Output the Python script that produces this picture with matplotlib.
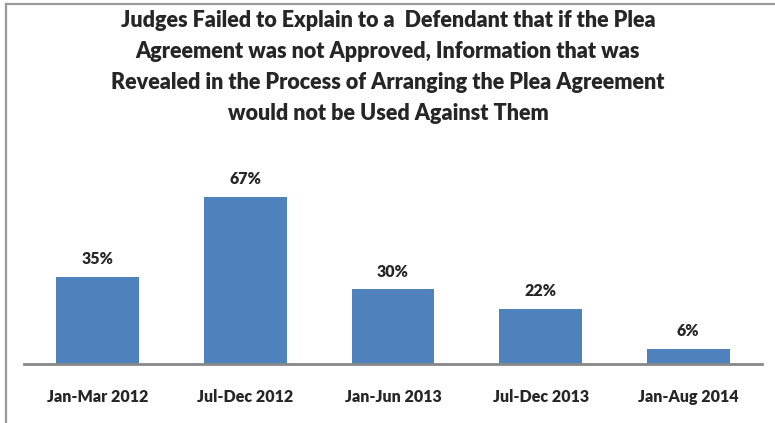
import matplotlib
matplotlib.use("Agg")
import matplotlib.pyplot as plt
from matplotlib.lines import Line2D
from matplotlib import font_manager

periods = ["Jan-Mar 2012", "Jul-Dec 2012", "Jan-Jun 2013", "Jul-Dec 2013", "Jan-Aug 2014"]
failed_pct = [35, 67, 30, 22, 6]

title = ("Judges Failed to Explain to a  Defendant that if the Plea\n"
         "Agreement was not Approved, Information that was\n"
         "Revealed in the Process of Arranging the Plea Agreement\n"
         "would not be Used Against Them")

plt.rcParams["font.family"] = ["Lato", "DejaVu Sans"]
print(sorted({(f.name, f.weight) for f in font_manager.fontManager.ttflist if f.name in ("Lato", "Open Sans", "Noto Sans", "Roboto")}))

W, H = 775, 423
fig = plt.figure(figsize=(W / 100, H / 100), dpi=100)

# plot area: baseline at y=364 px, 0-80% scale
ax = fig.add_axes([24 / W, 1 - 364 / H, (762 - 24) / W, (80 * 2.49) / H])
x = range(len(periods))
ax.bar(x, failed_pct, width=0.56, color="#4F81BD", zorder=2)
ax.set_xlim(-0.5, len(periods) - 0.5)
ax.set_ylim(0, 80)

for xi, v in zip(x, failed_pct):
    ax.annotate(f"{v}%", (xi, v), xytext=(0, 7), textcoords="offset points",
                ha="center", va="bottom", fontsize=11.5, fontweight="heavy",
                color="#262626")

for s in ["top", "right", "left"]:
    ax.spines[s].set_visible(False)
ax.spines["bottom"].set_color("#888888")
ax.spines["bottom"].set_linewidth(2)
ax.set_yticks([])
ax.set_xticks(list(x))
ax.set_xticklabels(periods, fontsize=11.5, fontweight="heavy", color="#262626")
ax.tick_params(axis="x", length=0, pad=18)

fig.text(388 / W, 1 - 67 / H, title, ha="center", va="center", fontsize=15.5,
         fontweight="heavy", color="#262626", linespacing=1.6)

# outer frame on top and left edges
fig.add_artist(Line2D([6 / W, 1], [1 - 4 / H, 1 - 4 / H], transform=fig.transFigure,
                      color="#9a9a9a", linewidth=1.6))
fig.add_artist(Line2D([6 / W, 6 / W], [0, 1 - 4 / H], transform=fig.transFigure,
                      color="#9a9a9a", linewidth=1.6))

fig.savefig("out.png", dpi=100)
